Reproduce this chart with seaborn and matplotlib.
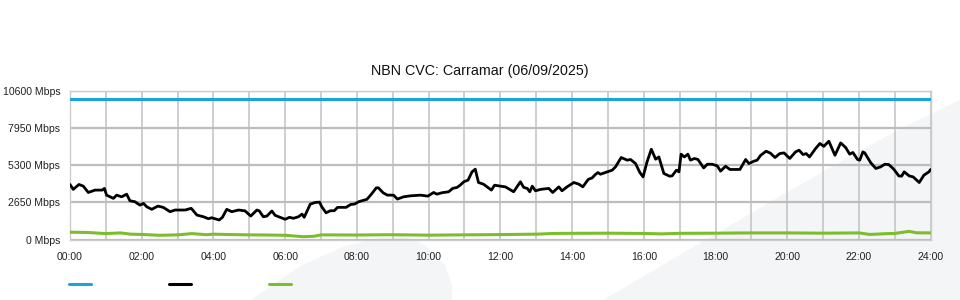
import matplotlib
matplotlib.use("Agg")
import matplotlib.pyplot as plt
from matplotlib.patches import Polygon
from matplotlib.lines import Line2D
import seaborn as sns
import pandas as pd

# ---------------- data ----------------
title = "NBN CVC: Carramar (06/09/2025)"

capacity_hours = [0.0, 24.0]
capacity_mbps = [10000, 10000]

traffic_hours = [
    0.00, 0.09, 0.25, 0.37, 0.51, 0.70, 0.90, 0.96, 1.02, 1.21, 1.30, 1.44, 1.58, 1.67,
    1.81, 1.95, 2.05, 2.14, 2.28, 2.45, 2.60, 2.79, 2.93, 3.21, 3.38, 3.54, 3.72, 3.86,
    3.95, 4.16, 4.25, 4.37, 4.51, 4.70, 4.88, 5.04, 5.21, 5.28, 5.39, 5.49, 5.63, 5.72,
    5.86, 6.00, 6.12, 6.23, 6.37, 6.47, 6.53, 6.70, 6.84, 6.96, 7.02, 7.14, 7.26, 7.37,
    7.46, 7.70, 7.83, 7.93, 8.05, 8.14, 8.28, 8.42, 8.54, 8.60, 8.73, 8.85, 9.02, 9.13,
    9.30, 9.49, 9.77, 9.98, 10.14, 10.23, 10.37, 10.56, 10.67, 10.79, 10.88, 10.98,
    11.10, 11.21, 11.30, 11.39, 11.53, 11.63, 11.75, 11.84, 12.00, 12.14, 12.37, 12.56,
    12.65, 12.75, 12.82, 12.89, 12.98, 13.12, 13.35, 13.46, 13.63, 13.72, 13.86, 14.05,
    14.19, 14.30, 14.45, 14.56, 14.65, 14.72, 14.79, 14.93, 15.12, 15.21, 15.37, 15.54,
    15.63, 15.77, 15.89, 15.98, 16.09, 16.21, 16.33, 16.42, 16.56, 16.72, 16.79, 16.91,
    16.98, 17.04, 17.13, 17.23, 17.30, 17.41, 17.51, 17.67, 17.77, 17.91, 18.05, 18.14,
    18.28, 18.40, 18.68, 18.84, 18.93, 19.07, 19.16, 19.26, 19.41, 19.53, 19.66, 19.79,
    19.91, 20.07, 20.23, 20.33, 20.44, 20.53, 20.62, 20.79, 20.91, 21.02, 21.16, 21.33,
    21.49, 21.63, 21.74, 21.83, 21.96, 22.02, 22.11, 22.16, 22.33, 22.47, 22.60, 22.72,
    22.83, 22.97, 23.11, 23.19, 23.26, 23.40, 23.51, 23.68, 23.81, 23.95, 24.00,
]
traffic_mbps = [
    3920, 3570, 3920, 3800, 3350, 3520, 3520, 3640, 3160, 2930, 3160, 3040, 3230, 2760,
    2690, 2450, 2570, 2330, 2150, 2380, 2290, 1980, 2100, 2100, 2220, 1740, 1620, 1480,
    1550, 1390, 1580, 2150, 1980, 2100, 2040, 1670, 2100, 2030, 1620, 1670, 2030, 1720,
    1580, 1440, 1580, 1510, 1620, 1810, 1580, 2520, 2640, 2660, 2330, 1900, 2050, 2050,
    2290, 2290, 2500, 2520, 2690, 2760, 2860, 3280, 3680, 3680, 3330, 3160, 3160, 2880,
    3040, 3110, 3160, 3090, 3350, 3230, 3330, 3400, 3640, 3710, 3870, 4110, 4230, 4820,
    5010, 4060, 3940, 3750, 3520, 3870, 3800, 3750, 3400, 4110, 3710, 3640, 3400, 3800,
    3470, 3570, 3640, 3350, 3750, 3470, 3750, 4060, 3940, 3750, 4280, 4390, 4630, 4770,
    4650, 4770, 4940, 5170, 5840, 5650, 5700, 5410, 4770, 4460, 5530, 6430, 5720, 5880,
    4700, 4510, 4530, 4940, 4820, 6080, 5880, 6080, 5650, 5770, 5700, 5100, 5360, 5360,
    5240, 4870, 5220, 4990, 4990, 5700, 5410, 5580, 5650, 6000, 6290, 6150, 5840, 6120,
    6170, 5770, 6240, 6360, 6050, 6120, 5880, 6480, 6840, 6640, 7000, 6000, 6880, 6550,
    6080, 6200, 5700, 5650, 6240, 6170, 5460, 5060, 5170, 5360, 5340, 5010, 4530, 4510,
    4820, 4530, 4460, 4060, 4580, 4820, 4990,
]

other_hours = [
    0.0, 0.5, 1.0, 1.4, 1.7, 2.0, 2.5, 3.0, 3.4, 3.8, 4.0, 4.5, 5.0, 5.5, 6.0, 6.5,
    6.8, 7.0, 8.0, 9.0, 10.0, 11.0, 12.0, 13.0, 13.5, 14.0, 15.0, 16.0, 16.5, 17.0,
    18.0, 19.0, 20.0, 21.0, 22.0, 22.3, 22.8, 23.0, 23.4, 23.6, 24.0,
]
other_mbps = [
    520, 500, 420, 470, 380, 360, 300, 330, 420, 340, 380, 350, 330, 320, 300, 200,
    230, 330, 320, 340, 310, 330, 350, 380, 430, 440, 450, 430, 400, 440,
    450, 470, 470, 450, 470, 360, 420, 430, 580, 480, 470,
]

y_ticks = [0, 2650, 5300, 7950, 10600]
y_tick_labels = ["0 Mbps", "2650 Mbps", "5300 Mbps", "7950 Mbps", "10600 Mbps"]
x_ticks = [0, 2, 4, 6, 8, 10, 12, 14, 16, 18, 20, 22, 24]
x_tick_labels = ["00:00", "02:00", "04:00", "06:00", "08:00", "10:00", "12:00",
                 "14:00", "16:00", "18:00", "20:00", "22:00", "24:00"]
x_minor_ticks = list(range(0, 25))

# ---------------- style ----------------
sns.set_theme(style="white")
plt.rcParams["font.family"] = ["Liberation Sans", "DejaVu Sans"]

BLUE = "#1aa3e0"
BLACK = "#000000"
GREEN = "#7dbd2c"
WATERMARK = "#f4f5f7"

fig = plt.figure(figsize=(9.6, 3.0), dpi=100)
fig.patch.set_facecolor("white")

# background watermark shapes (figure coordinates)
W, H = 960.0, 300.0
def fpts(pts):
    return [(x / W, 1 - y / H) for x, y in pts]

blade = fpts([(251, 300), (300, 266), (345, 246), (380, 238), (403, 236), (425, 245),
              (445, 265), (452, 285), (452, 300)])
band = fpts([(603, 300), (690, 249), (765, 205), (840, 162), (898, 130), (960, 100),
             (960, 300)])
for poly in (blade, band):
    fig.add_artist(Polygon(poly, closed=True, transform=fig.transFigure,
                           facecolor=WATERMARK, edgecolor="none", zorder=-5))

ax = fig.add_axes([70 / W, 1 - 239.5 / H, 860.7 / W, (239.5 - 90.7) / H])
ax.set_zorder(2)
ax.set_facecolor("none")
ax.patch.set_alpha(0)

df_cap = pd.DataFrame({"hour": capacity_hours, "mbps": capacity_mbps})
df_tr = pd.DataFrame({"hour": traffic_hours, "mbps": traffic_mbps})
df_ot = pd.DataFrame({"hour": other_hours, "mbps": other_mbps})

sns.lineplot(data=df_cap, x="hour", y="mbps", ax=ax, color=BLUE, linewidth=2.2,
             zorder=3)
sns.lineplot(data=df_ot, x="hour", y="mbps", ax=ax, color=GREEN, linewidth=2.2,
             zorder=3)
sns.lineplot(data=df_tr, x="hour", y="mbps", ax=ax, color=BLACK, linewidth=2.0,
             zorder=4)

ax.set_xlim(0, 24)
ax.set_ylim(0, 10600)
ax.set_xlabel("")
ax.set_ylabel("")

ax.set_yticks(y_ticks)
ax.set_yticklabels(y_tick_labels)
ax.set_xticks(x_ticks)
ax.set_xticklabels(x_tick_labels)
ax.set_xticks(x_minor_ticks, minor=True)

ax.tick_params(axis="both", which="both", length=0, labelsize=7.6, colors="#222222")
ax.tick_params(axis="y", pad=7)
ax.tick_params(axis="x", pad=9)

ax.grid(False)
ax.grid(True, axis="x", which="both", color="#c6c6c6", linewidth=1.2, zorder=1)
ax.grid(True, axis="y", which="major", color="#bdbdbd", linewidth=1.6, zorder=1)
for s in ax.spines.values():
    s.set_color("#cccccc")
    s.set_linewidth(1.0)

fig.text(480 / W, 1 - 71 / H, title, ha="center", va="center", fontsize=10.3,
         color="#111111")

handles = [Line2D([], [], color=BLUE, linewidth=2.2),
           Line2D([], [], color=BLACK, linewidth=2.2),
           Line2D([], [], color=GREEN, linewidth=2.2)]
fig.legend(handles=handles, labels=["", "", ""], ncol=3, loc="center left",
           bbox_to_anchor=(69 / W, 1 - 285 / H), frameon=False, fontsize=8,
           handlelength=2.0, handletextpad=0.0, columnspacing=7.0, borderpad=0.0,
           borderaxespad=0.0)

fig.savefig("out.png", dpi=100, facecolor="white")
